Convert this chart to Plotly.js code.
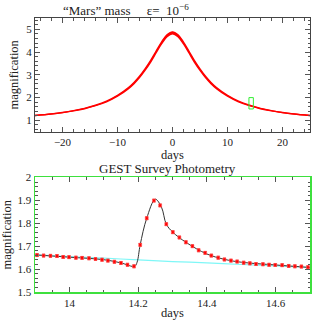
<!DOCTYPE html>
<html>
<head>
<meta charset="utf-8">
<script src="https://cdn.plot.ly/plotly-3.0.1.min.js"></script>
<style>
  html, body { margin: 0; padding: 0; background: #fff; }
  #myDiv { width: 327px; height: 327px; }
</style>
</head>
<body>
<div id="myDiv"></div>
<script>
// top panel: whole light curve (days from peak, magnification)
var curveDays = [-25, -22, -20, -18, -16, -14, -12, -10, -8, -7, -6, -5, -4, -3, -2, -1, 0,
                 1, 2, 3, 4, 5, 6, 7, 8, 10, 12, 14, 16, 18, 20, 22, 25];
var curveMag = [1.214, 1.282, 1.343, 1.42, 1.52, 1.654, 1.83, 2.08, 2.42, 2.64, 2.91, 3.23, 3.59, 4.00, 4.40, 4.72, 4.85,
                4.72, 4.40, 4.00, 3.59, 3.23, 2.91, 2.64, 2.42, 2.08, 1.83, 1.654, 1.52, 1.42, 1.343, 1.282, 1.214];
// scatter half-width of the thick curve
var curveErr = [0.002, 0.003, 0.004, 0.006, 0.008, 0.01, 0.014, 0.018, 0.024, 0.027, 0.03, 0.033, 0.036, 0.038, 0.04, 0.04, 0.04,
                0.04, 0.04, 0.038, 0.036, 0.033, 0.03, 0.027, 0.024, 0.018, 0.014, 0.01, 0.008, 0.006, 0.004, 0.003, 0.002];

// zoom window drawn in top panel
var boxDays = [13.9, 14.7];
var boxMag = [1.5, 2.0];

// bottom panel: GEST photometry
var photDays = [13.906, 13.925, 13.945, 13.964, 13.982, 13.999, 14.019, 14.037, 14.057, 14.076,
                14.095, 14.112, 14.131, 14.150, 14.169, 14.188, 14.206, 14.225, 14.246, 14.264,
                14.282, 14.301, 14.320, 14.339, 14.358, 14.376, 14.395, 14.413, 14.433, 14.451,
                14.470, 14.488, 14.507, 14.525, 14.543, 14.563, 14.581, 14.599, 14.619, 14.638,
                14.656, 14.675, 14.694];
var photMag = [1.661, 1.659, 1.658, 1.657, 1.653, 1.652, 1.650, 1.649, 1.647, 1.644,
               1.641, 1.637, 1.632, 1.627, 1.619, 1.612, 1.706, 1.822, 1.899, 1.878,
               1.796, 1.761, 1.738, 1.717, 1.700, 1.682, 1.671, 1.659, 1.650, 1.642,
               1.637, 1.633, 1.628, 1.625, 1.622, 1.621, 1.619, 1.618, 1.617, 1.614,
               1.612, 1.611, 1.608];
var photErr = 0.006;

// planetary model curve
var modelDays = [13.9, 14.0, 14.1, 14.15, 14.19, 14.197, 14.206, 14.225, 14.25, 14.268,
                 14.282, 14.301, 14.34, 14.4, 14.45, 14.5, 14.6, 14.7];
var modelMag = [1.662, 1.652, 1.641, 1.627, 1.612, 1.63, 1.706, 1.822, 1.905, 1.87,
                1.796, 1.761, 1.716, 1.666, 1.643, 1.630, 1.618, 1.607];

// single lens (no planet) curve
var singleDays = [13.9, 14.0, 14.1, 14.2, 14.3, 14.4, 14.5, 14.6, 14.7];
var singleMag = [1.662, 1.655, 1.648, 1.640, 1.633, 1.627, 1.620, 1.614, 1.607];

var upper = [], lower = [];
for (var i = 0; i < curveMag.length; i++) {
  upper.push(curveMag[i] + curveErr[i]);
  lower.push(curveMag[i] - curveErr[i]);
}

var font = "Liberation Serif, DejaVu Serif, serif";

var trLow = {
  x: curveDays, y: lower, xaxis: "x", yaxis: "y",
  mode: "lines", type: "scatter", line: { color: "red", width: 1.4, shape: "spline" },
  hoverinfo: "skip"
};
var trHigh = {
  x: curveDays, y: upper, xaxis: "x", yaxis: "y",
  mode: "lines", type: "scatter", fill: "tonexty", fillcolor: "red",
  line: { color: "red", width: 1.4, shape: "spline" }
};

var trSingle = {
  x: singleDays, y: singleMag, xaxis: "x2", yaxis: "y2",
  mode: "lines", type: "scatter", line: { color: "#7ff7f7", width: 1.2, shape: "spline" }
};
var trModel = {
  x: modelDays, y: modelMag, xaxis: "x2", yaxis: "y2",
  mode: "lines", type: "scatter", line: { color: "#333", width: 1, shape: "spline" }
};
var trPhot = {
  x: photDays, y: photMag, xaxis: "x2", yaxis: "y2",
  mode: "markers", type: "scatter",
  marker: { symbol: "square", size: 3, color: "red", line: { color: "rgba(255,110,110,0.55)", width: 1 } },
  error_y: { type: "constant", value: photErr, color: "red", thickness: 1, width: 1.5 }
};

var tickfont = { family: font, size: 11, color: "#222" };

var layout = {
  width: 327, height: 327,
  margin: { l: 35, r: 17, t: 18, b: 35 },
  showlegend: false,
  paper_bgcolor: "white", plot_bgcolor: "white",
  font: { family: font, color: "#222" },
  xaxis: {
    domain: [0, 1], anchor: "y", range: [-25, 25],
    tickvals: [-20, -10, 0, 10, 20], ticks: "inside", ticklen: 5, tickcolor: "#555",
    minor: { dtick: 2, ticks: "inside", ticklen: 2.5, tickcolor: "#555" },
    showline: true, linecolor: "#444", linewidth: 1, mirror: "ticks",
    showgrid: false, zeroline: false, tickfont: tickfont,
    title: { text: "days", font: { family: font, size: 12.5 }, standoff: 0 }
  },
  yaxis: {
    domain: [0.585, 1], anchor: "x", range: [0.5, 5.5],
    tickvals: [1, 2, 3, 4, 5], ticks: "inside", ticklen: 5, tickcolor: "#555",
    minor: { dtick: 0.2, ticks: "inside", ticklen: 2.5, tickcolor: "#555" },
    showline: true, linecolor: "#444", linewidth: 1, mirror: "ticks",
    showgrid: false, zeroline: false, tickfont: tickfont,
    title: { text: "magnification", font: { family: font, size: 12.5 }, standoff: 4 }
  },
  xaxis2: {
    domain: [0, 1], anchor: "y2", range: [13.9, 14.7],
    tickvals: [14, 14.2, 14.4, 14.6], ticktext: ["14", "14.2", "14.4", "14.6"],
    ticks: "inside", ticklen: 5, tickcolor: "#555",
    minor: { dtick: 0.05, ticks: "inside", ticklen: 2.5, tickcolor: "#555" },
    showline: true, linecolor: "#3ee03e", linewidth: 1.5, mirror: "ticks",
    showgrid: false, zeroline: false, tickfont: tickfont,
    title: { text: "days", font: { family: font, size: 12.5 }, standoff: 0 }
  },
  yaxis2: {
    domain: [0, 0.418], anchor: "x2", range: [1.5, 2.0],
    tickvals: [1.5, 1.6, 1.7, 1.8, 1.9, 2], ticktext: ["1.5", "1.6", "1.7", "1.8", "1.9", "2"],
    ticks: "inside", ticklen: 5, tickcolor: "#555",
    minor: { dtick: 0.02, ticks: "inside", ticklen: 2.5, tickcolor: "#555" },
    showline: true, linecolor: "#3ee03e", linewidth: 1.5, mirror: "ticks",
    showgrid: false, zeroline: false, tickfont: tickfont,
    title: { text: "magnification", font: { family: font, size: 12.5 }, standoff: 4 }
  },
  shapes: [{
    type: "rect", xref: "x", yref: "y",
    x0: boxDays[0], x1: boxDays[1], y0: boxMag[0], y1: boxMag[1],
    line: { color: "#33ee33", width: 1 }
  }],
  annotations: [
    {
      text: "\u201cMars\u201d mass &nbsp;&nbsp;&nbsp; \u03b5= &nbsp;10<sup>\u22126</sup>",
      xref: "paper", yref: "paper", x: 0.33, y: 1.0, yshift: 8,
      xanchor: "center", yanchor: "middle", showarrow: false,
      font: { family: font, size: 13, color: "#222" }
    },
    {
      text: "GEST Survey Photometry",
      xref: "paper", yref: "paper", x: 0.48, y: 0.418, yshift: 9,
      xanchor: "center", yanchor: "middle", showarrow: false,
      font: { family: font, size: 13, color: "#222" }
    }
  ]
};

Plotly.newPlot("myDiv", [trLow, trHigh, trSingle, trModel, trPhot], layout,
  { staticPlot: true, displayModeBar: false });
</script>
</body>
</html>
